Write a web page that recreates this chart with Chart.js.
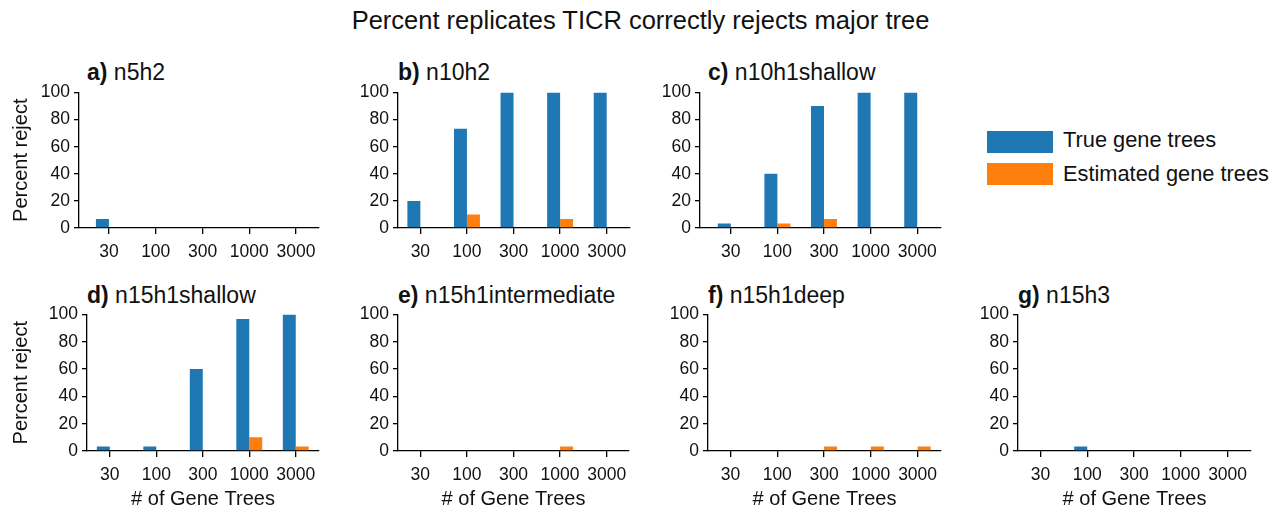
<!DOCTYPE html>
<html>
<head>
<meta charset="utf-8">
<script src="https://cdn.jsdelivr.net/npm/chart.js@4/dist/chart.umd.min.js"></script>
<style>
body { margin: 0; width: 1281px; height: 510px; overflow: hidden; background: #fff;
       font-family: "Liberation Sans", Arial, sans-serif; color: #111; }
.txt { position: absolute; white-space: nowrap; line-height: 1.15; }
#title { left: 0; width: 1281px; top: 6px; text-align: center; font-size: 25.5px; }
.ptitle { font-size: 23px; }
.swatch { position: absolute; width: 66px; height: 22px; }
.legtxt { font-size: 21.8px; }
.panel { position: absolute; }
</style>
</head>
<body>
<div id="title" class="txt">Percent replicates TICR correctly rejects major tree</div>

<div class="swatch" style="left:987px;top:131px;background:#1f77b4"></div>
<div class="txt legtxt" style="left:1063px;top:127px">True gene trees</div>
<div class="swatch" style="left:987px;top:163px;background:#ff7f0e"></div>
<div class="txt legtxt" style="left:1063px;top:161px">Estimated gene trees</div>

<script>
// data (percent of replicates rejecting)
var geneTrees = ['30', '100', '300', '1000', '3000'];
var panelLetters = ['a)', 'b)', 'c)', 'd)', 'e)', 'f)', 'g)'];
var panelNames = ['n5h2', 'n10h2', 'n10h1shallow', 'n15h1shallow', 'n15h1intermediate', 'n15h1deep', 'n15h3'];
var trueTrees = [
    [6.7, 0, 0, 0, 0],
    [20, 73.3, 100, 100, 100],
    [3.3, 40, 90, 100, 100],
    [3.3, 3.3, 60, 96.7, 100],
    [0, 0, 0, 0, 0],
    [0, 0, 0, 0, 0],
    [0, 3.3, 0, 0, 0]
];
var estTrees = [
    [0, 0, 0, 0, 0],
    [0, 10, 0, 6.7, 0],
    [0, 3.3, 6.7, 0, 0],
    [0, 0, 0, 10, 3.3],
    [0, 0, 0, 3.3, 0],
    [0, 0, 3.3, 3.3, 3.3],
    [0, 0, 0, 0, 0]
];
var yTicks = [0, 20, 40, 60, 80, 100];

// where each axes box sits on the page
var boxes = [
    {left: 79, right: 319, top: 92, bottom: 228, xmin: -0.64, xmax: 4.49, ylab: true, xlab: false, tx: 87, ty: 59},
    {left: 398, right: 630, top: 92, bottom: 228, xmin: -0.48, xmax: 4.5, ylab: false, xlab: false, tx: 398, ty: 59},
    {left: 700, right: 941, top: 92, bottom: 228, xmin: -0.66, xmax: 4.51, ylab: false, xlab: false, tx: 708, ty: 59},
    {left: 87, right: 319, top: 314, bottom: 451, xmin: -0.49, xmax: 4.5, ylab: true, xlab: true, tx: 87, ty: 282},
    {left: 398, right: 629, top: 314, bottom: 451, xmin: -0.48, xmax: 4.48, ylab: false, xlab: true, tx: 398, ty: 282},
    {left: 708, right: 941, top: 314, bottom: 451, xmin: -0.48, xmax: 4.5, ylab: false, xlab: true, tx: 708, ty: 282},
    {left: 1018, right: 1251, top: 314, bottom: 451, xmin: -0.48, xmax: 4.5, ylab: false, xlab: true, tx: 1018, ty: 282}
];

var fontFam = '"Liberation Sans", Arial, sans-serif';
var ink = '#111';

function makePanel(i) {
    var b = boxes[i];
    var yw = b.ylab ? b.left - 9 : 50;
    var xh = b.xlab ? 60 : 38;
    var padT = 14, padR = 20;
    var w = yw + (b.right - b.left) + padR;
    var h = padT + (b.bottom - b.top) + xh;

    var t = document.createElement('div');
    t.className = 'txt ptitle';
    t.style.left = b.tx + 'px';
    t.style.top = b.ty + 'px';
    t.innerHTML = '<b>' + panelLetters[i] + '</b> ' + panelNames[i];
    document.body.appendChild(t);

    var cv = document.createElement('canvas');
    cv.className = 'panel';
    cv.width = w;
    cv.height = h;
    cv.style.left = (b.left - yw) + 'px';
    cv.style.top = (b.top - padT) + 'px';
    document.body.appendChild(cv);

    new Chart(cv, {
        type: 'bar',
        data: {
            datasets: [{
                label: 'True gene trees',
                data: trueTrees[i].map(function(v, k) { return {x: k, y: v}; }),
                backgroundColor: '#1f77b4'
            }, {
                label: 'Estimated gene trees',
                data: estTrees[i].map(function(v, k) { return {x: k, y: v}; }),
                backgroundColor: '#ff7f0e'
            }]
        },
        options: {
            responsive: false,
            animation: false,
            devicePixelRatio: 1,
            layout: {padding: {top: padT, right: padR, left: 0, bottom: 0}},
            datasets: {bar: {categoryPercentage: 0.557, barPercentage: 1, borderWidth: 0}},
            plugins: {legend: {display: false}, tooltip: {enabled: false}},
            scales: {
                x: {
                    type: 'linear',
                    min: b.xmin,
                    max: b.xmax,
                    offset: false,
                    afterFit: function(s) { s.height = xh; },
                    afterBuildTicks: function(s) {
                        s.ticks = geneTrees.map(function(g, k) { return {value: k}; });
                    },
                    ticks: {
                        callback: function(v) { return geneTrees[v]; },
                        font: {family: fontFam, size: 17.5},
                        color: ink,
                        padding: 8,
                        maxRotation: 0,
                        autoSkip: false
                    },
                    grid: {display: true, offset: false, drawOnChartArea: false, drawTicks: true, tickLength: 6, color: '#000', lineWidth: 1.3},
                    border: {display: true, color: '#000', width: 1.3},
                    title: {display: b.xlab, text: '# of Gene Trees', font: {family: fontFam, size: 20}, color: ink, padding: 0}
                },
                y: {
                    min: 0,
                    max: 100,
                    afterFit: function(s) { s.width = yw; },
                    afterBuildTicks: function(s) {
                        s.ticks = yTicks.map(function(v) { return {value: v}; });
                    },
                    ticks: {font: {family: fontFam, size: 17.5}, color: ink, padding: 4},
                    grid: {display: true, drawOnChartArea: false, drawTicks: true, tickLength: 5, color: '#000', lineWidth: 1.3},
                    border: {display: true, color: '#000', width: 1.3},
                    title: {display: b.ylab, text: 'Percent reject', font: {family: fontFam, size: 20}, color: ink, padding: 0}
                }
            }
        }
    });
}

for (var i = 0; i < boxes.length; i++) {
    makePanel(i);
}
</script>
</body>
</html>
